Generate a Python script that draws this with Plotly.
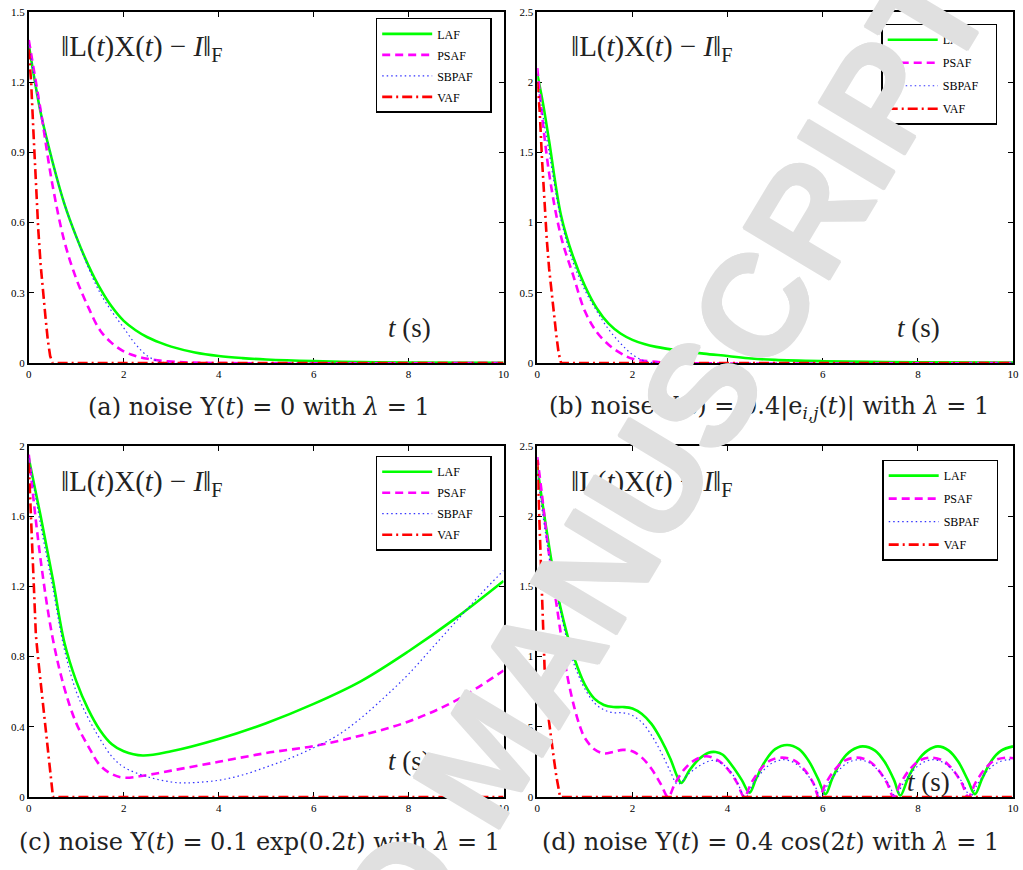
import plotly.graph_objects as go

# ---------------- data: (a) noise Y(t) = 0 ----------------
a_laf_t = [0, 0.25, 0.5, 0.75, 1, 1.25, 1.5, 1.75, 2, 2.25, 2.5, 2.75, 3, 3.5, 4, 4.5, 5, 6, 7, 8, 10]
a_laf_y = [1.36, 1.07, 0.86, 0.68, 0.54, 0.42, 0.32, 0.24, 0.18, 0.14, 0.11, 0.088, 0.07, 0.045, 0.03, 0.021, 0.015, 0.008, 0.004, 0.002, 0.001]
a_psaf_t = [0, 0.25, 0.5, 0.75, 1, 1.25, 1.5, 1.75, 2, 2.25, 2.5, 3, 4, 10]
a_psaf_y = [1.38, 1.08, 0.76, 0.52, 0.36, 0.24, 0.14, 0.085, 0.05, 0.03, 0.018, 0.006, 0, 0]
a_sbpaf_t = [0, 0.25, 0.5, 0.75, 1, 1.25, 1.5, 1.75, 2, 2.25, 2.5, 2.75, 3, 10]
a_sbpaf_y = [1.36, 1.07, 0.86, 0.68, 0.54, 0.41, 0.30, 0.22, 0.15, 0.08, 0.03, 0.006, 0, 0]
a_vaf_t = [0, 0.05, 0.1, 0.15, 0.2, 0.25, 0.3, 0.35, 0.4, 0.45, 0.5, 10]
a_vaf_y = [1.34, 1.2, 0.98, 0.76, 0.57, 0.42, 0.3, 0.2, 0.1, 0.03, 0, 0]

# ---------------- data: (b) noise Y(t) = 0.4|e_ij(t)| ----------------
b_laf_t = [0, 0.125, 0.25, 0.5, 0.75, 1, 1.25, 1.5, 1.75, 2, 2.25, 2.5, 3, 3.5, 4, 4.5, 5, 6, 7, 8, 10]
b_laf_y = [2.06, 1.84, 1.58, 1.05, 0.76, 0.55, 0.39, 0.28, 0.21, 0.165, 0.135, 0.115, 0.088, 0.067, 0.05, 0.032, 0.022, 0.013, 0.008, 0.005, 0.003]
b_psaf_t = [0, 0.25, 0.5, 0.75, 1, 1.25, 1.5, 1.75, 2, 2.5, 3, 10]
b_psaf_y = [2.1, 1.35, 0.9, 0.63, 0.37, 0.22, 0.13, 0.07, 0.03, 0.008, 0, 0]
b_sbpaf_t = [0, 0.25, 0.5, 0.75, 1, 1.25, 1.5, 1.75, 2, 2.25, 2.5, 10]
b_sbpaf_y = [2.0, 1.5, 1.02, 0.72, 0.52, 0.37, 0.24, 0.14, 0.06, 0.015, 0, 0]
b_vaf_t = [0, 0.05, 0.1, 0.15, 0.2, 0.25, 0.3, 0.35, 0.4, 0.45, 0.5, 10]
b_vaf_y = [2.0, 1.8, 1.45, 1.13, 0.88, 0.67, 0.5, 0.35, 0.2, 0.07, 0, 0]

# ---------------- data: (c) noise Y(t) = 0.1 exp(0.2t) ----------------
c_laf_t = [0, 0.25, 0.5, 0.75, 1, 1.25, 1.5, 1.75, 2, 2.4, 3, 4, 5, 6, 7, 8, 9, 10]
c_laf_y = [1.93, 1.6, 1.25, 0.88, 0.66, 0.5, 0.38, 0.3, 0.26, 0.236, 0.26, 0.33, 0.42, 0.53, 0.66, 0.83, 1.02, 1.23]
c_psaf_t = [0, 0.25, 0.5, 0.75, 1, 1.25, 1.5, 1.75, 2, 2.5, 3, 4, 5, 6, 7, 8, 9, 10]
c_psaf_y = [1.95, 1.35, 0.91, 0.62, 0.42, 0.29, 0.18, 0.13, 0.11, 0.125, 0.15, 0.2, 0.25, 0.29, 0.35, 0.43, 0.55, 0.72]
c_sbpaf_t = [0, 0.25, 0.5, 0.75, 1, 1.25, 1.5, 1.75, 2, 2.5, 3, 3.25, 3.5, 4, 4.5, 5, 5.5, 6, 6.5, 7, 7.5, 8, 8.5, 9, 9.5, 10]
c_sbpaf_y = [1.93, 1.55, 1.2, 0.84, 0.6, 0.45, 0.33, 0.23, 0.17, 0.115, 0.085, 0.08, 0.082, 0.095, 0.125, 0.17, 0.22, 0.28, 0.35, 0.45, 0.57, 0.7, 0.85, 1.0, 1.15, 1.29]
c_vaf_t = [0, 0.05, 0.1, 0.15, 0.2, 0.25, 0.3, 0.35, 0.4, 0.45, 0.5, 0.51, 10]
c_vaf_y = [1.9, 1.55, 1.2, 0.92, 0.78, 0.66, 0.53, 0.41, 0.28, 0.16, 0.03, 0, 0]

# ---------------- data: (d) noise Y(t) = 0.4 cos(2t) ----------------
d_laf_t = [0, 0.15, 0.35, 0.5, 0.7, 0.85, 1.0, 1.2, 1.4, 1.6, 1.8, 2.0, 2.2, 2.4, 2.6, 2.8, 2.95, 3.03,
           3.2, 3.4, 3.6, 3.75, 3.9, 4.1, 4.3, 4.46,
           4.6, 4.8, 5.0, 5.25, 5.5, 5.7, 5.9, 6.06,
           6.2, 6.4, 6.6, 6.84, 7.1, 7.3, 7.5, 7.63,
           7.8, 8.0, 8.2, 8.42, 8.65, 8.85, 9.05, 9.2,
           9.35, 9.55, 9.75, 10]
d_laf_y = [2.35, 2.0, 1.58, 1.33, 1.07, 0.92, 0.8, 0.7, 0.655, 0.64, 0.64, 0.63, 0.59, 0.52, 0.41, 0.27, 0.14, 0.10,
           0.19, 0.27, 0.315, 0.32, 0.30, 0.22, 0.12, 0.03,
           0.13, 0.26, 0.34, 0.37, 0.34, 0.26, 0.13, 0.02,
           0.13, 0.26, 0.33, 0.36, 0.33, 0.25, 0.12, 0.01,
           0.14, 0.26, 0.33, 0.36, 0.33, 0.25, 0.12, 0.02,
           0.13, 0.26, 0.33, 0.36]
d_psaf_t = [0, 0.1, 0.2, 0.3, 0.4, 0.5, 0.6, 0.7, 0.8, 0.9, 1.0, 1.2, 1.4, 1.6, 1.8, 2.0, 2.2, 2.4, 2.6, 2.75,
            2.9, 3.1, 3.3, 3.55, 3.8, 4.0, 4.2, 4.35,
            4.5, 4.7, 4.9, 5.14, 5.4, 5.6, 5.8, 5.92,
            6.07, 6.27, 6.47, 6.71, 6.95, 7.15, 7.35, 7.49,
            7.64, 7.84, 8.04, 8.28, 8.52, 8.72, 8.92, 9.06,
            9.21, 9.41, 9.61, 9.85, 10]
d_psaf_y = [2.42, 2.15, 1.85, 1.6, 1.38, 1.15, 0.92, 0.75, 0.61, 0.5, 0.42, 0.34, 0.31, 0.32, 0.335, 0.325, 0.28, 0.2, 0.09, 0.0,
            0.1, 0.2, 0.26, 0.29, 0.26, 0.2, 0.1, 0.0,
            0.1, 0.2, 0.26, 0.28, 0.26, 0.2, 0.1, 0.0,
            0.1, 0.2, 0.26, 0.28, 0.26, 0.2, 0.1, 0.0,
            0.1, 0.2, 0.26, 0.28, 0.26, 0.2, 0.1, 0.0,
            0.1, 0.2, 0.26, 0.28, 0.275]
d_sbpaf_t = [0, 0.1, 0.2, 0.3, 0.4, 0.5, 0.6, 0.7, 0.8, 0.9, 1.0, 1.2, 1.4, 1.6, 1.8, 2.0, 2.2, 2.4, 2.6, 2.8, 2.95,
             3.2, 3.45, 3.7, 3.95, 4.15, 4.38,
             4.53, 4.73, 4.93, 5.18, 5.42, 5.62, 5.82, 5.96,
             6.11, 6.31, 6.51, 6.75, 6.99, 7.19, 7.39, 7.53,
             7.68, 7.88, 8.08, 8.32, 8.56, 8.76, 8.96, 9.1,
             9.25, 9.45, 9.65, 9.89, 10]
d_sbpaf_y = [2.3, 2.05, 1.82, 1.6, 1.44, 1.3, 1.15, 1.03, 0.92, 0.84, 0.77, 0.67, 0.62, 0.6, 0.6, 0.58, 0.53, 0.44, 0.32, 0.18, 0.09,
             0.17, 0.23, 0.26, 0.22, 0.14, 0.0,
             0.09, 0.18, 0.24, 0.265, 0.24, 0.18, 0.09, 0.0,
             0.09, 0.18, 0.24, 0.265, 0.24, 0.18, 0.09, 0.0,
             0.09, 0.18, 0.24, 0.265, 0.24, 0.18, 0.09, 0.0,
             0.09, 0.18, 0.24, 0.265, 0.26]
d_vaf_t = [0, 0.04, 0.08, 0.12, 0.16, 0.2, 0.25, 0.3, 0.35, 0.4, 0.45, 0.48, 10]
d_vaf_y = [2.4, 2.0, 1.55, 1.15, 0.86, 0.66, 0.52, 0.4, 0.27, 0.15, 0.04, 0, 0]

# ---------------- labels ----------------
series_names = ["LAF", "PSAF", "SBPAF", "VAF"]
captions = [
    "(a) noise Y(<i>t</i>) = 0 with <i>λ</i> = 1",
    "(b) noise Y(<i>t</i>) = 0.4|e<sub><i>i</i>,<i>j</i></sub>(<i>t</i>)| with <i>λ</i> = 1",
    "(c) noise Y(<i>t</i>) = 0.1 exp(0.2<i>t</i>) with <i>λ</i> = 1",
    "(d) noise Y(<i>t</i>) = 0.4 cos(2<i>t</i>) with <i>λ</i> = 1",
]
y_ranges = [1.5, 2.5, 2.0, 2.5]
y_dticks = [0.3, 0.5, 0.4, 0.5]
x_ticks = [0, 2, 4, 6, 8, 10]
norm_label = "‖L(<i>t</i>)X(<i>t</i>) − <i>I</i>‖<sub>F</sub>"
time_label = "<i>t</i> (s)"
watermark = "ACCEPTED MANUSCRIPT"

panel_data = [
    [(a_laf_t, a_laf_y), (a_psaf_t, a_psaf_y), (a_sbpaf_t, a_sbpaf_y), (a_vaf_t, a_vaf_y)],
    [(b_laf_t, b_laf_y), (b_psaf_t, b_psaf_y), (b_sbpaf_t, b_sbpaf_y), (b_vaf_t, b_vaf_y)],
    [(c_laf_t, c_laf_y), (c_psaf_t, c_psaf_y), (c_sbpaf_t, c_sbpaf_y), (c_vaf_t, c_vaf_y)],
    [(d_laf_t, d_laf_y), (d_psaf_t, d_psaf_y), (d_sbpaf_t, d_sbpaf_y), (d_vaf_t, d_vaf_y)],
]

# ---------------- styling ----------------
W, H = 1023, 870
SERIF = "Liberation Serif, Times New Roman, serif"
WIDE_SERIF = "DejaVu Serif, serif"
line_styles = [
    dict(color="#00ff00", width=2.6, dash="solid"),
    dict(color="#ff00ff", width=2.6, dash="8px,5px"),
    dict(color="#3333ff", width=1.2, dash="1.5px,3px"),
    dict(color="#ff0000", width=2.6, dash="10px,4px,2px,4px"),
]
line_shapes = ["spline", "spline", "spline", "linear"]
LEGEND_PAD = "\u00a0\u00a0\u00a0\u00a0"  # keeps the legend box as wide as the framed original

# plot frames in pixels: (left, right, top, bottom)
frames = [(26, 505, 6, 362), (539, 1019, 6, 362), (26, 505, 446, 802), (539, 1019, 446, 802)]
legend_pos = [(376, 12, 2), (886, 18, 4), (376, 456, 2), (887, 460, 4)]
norm_pos = [(140, 43), (655, 43), (140, 484), (655, 484)]
tlabel_pos = [(410, 327), (924, 327), (410, 766), (934, 787)]
caption_pos = [(258, 407), (773, 407), (259, 848), (774, 848)]

WM_COLOR = "#e0e0e0"
wm_ring = ", ".join(
    f"{dx}px {dy}px 0 {WM_COLOR}" for dx, dy in [(1, 0), (-1, 0), (0, 1), (0, -1)]
)


def px(x):
    return x / W


def py(y):
    return 1 - y / H


fig = go.Figure()
layout = dict(
    width=W, height=H, autosize=False,
    margin=dict(l=0, r=0, t=0, b=0),
    paper_bgcolor="white", plot_bgcolor="white",
    showlegend=True,
    font=dict(family=SERIF, color="black"),
)


def label(text, x, y, size, family=SERIF):
    return dict(
        text=text, x=px(x), y=py(y), xref="paper", yref="paper",
        xanchor="center", yanchor="middle", showarrow=False,
        font=dict(family=family, size=size, color="#222"),
    )


annotations = []
for i in range(4):
    sfx = "" if i == 0 else str(i + 1)
    xa, ya = "x" + sfx, "y" + sfx
    lg = "legend" + sfx
    left, right, top, bottom = frames[i]
    for j, (t, y) in enumerate(panel_data[i]):
        fig.add_trace(go.Scatter(
            x=t, y=y, mode="lines", name=series_names[j] + LEGEND_PAD,
            line=dict(shape=line_shapes[j], smoothing=1.0, **line_styles[j]),
            xaxis=xa, yaxis=ya, legend=lg, legendgroup=f"{i}-{j}",
            cliponaxis=False, hoverinfo="skip",
        ))
    axis_common = dict(
        showline=True, linecolor="black", linewidth=1.5, mirror="ticks",
        ticks="inside", ticklen=5, tickwidth=1, tickcolor="black",
        showgrid=False, zeroline=False, layer="below traces",
        tickfont=dict(family=SERIF, size=11, color="black"),
    )
    layout["xaxis" + sfx] = dict(
        axis_common, domain=[px(left), px(right)], anchor=ya,
        range=[0, 10], tickmode="array", tickvals=x_ticks,
    )
    layout["yaxis" + sfx] = dict(
        axis_common, domain=[py(bottom), py(top)], anchor=xa,
        range=[0, y_ranges[i]], tick0=0, dtick=y_dticks[i],
    )
    lx, ly, gap = legend_pos[i]
    layout[lg] = dict(
        x=px(lx), y=py(ly), xanchor="left", yanchor="top",
        xref="paper", yref="paper",
        bgcolor="white", bordercolor="black", borderwidth=1.5,
        font=dict(family=SERIF, size=12, color="black"),
        traceorder="grouped", tracegroupgap=gap, itemwidth=50,
    )
    nx, ny = norm_pos[i]
    annotations.append(label(norm_label, nx, ny, 29))
    tx, ty = tlabel_pos[i]
    annotations.append(label(time_label, tx, ty, 27))
    cx, cy = caption_pos[i]
    annotations.append(label(captions[i], cx, cy, 24, WIDE_SERIF))

# light diagonal watermark over the whole page
annotations.append(dict(
    text=watermark, x=px(486), y=py(760), xref="paper", yref="paper",
    xanchor="center", yanchor="middle", showarrow=False, textangle=-59,
    font=dict(family="Liberation Sans, Arial, sans-serif", size=146, color=WM_COLOR,
              weight="bold", shadow=wm_ring),
))

layout["annotations"] = annotations
fig.update_layout(**layout)
fig.write_html("out.html")
